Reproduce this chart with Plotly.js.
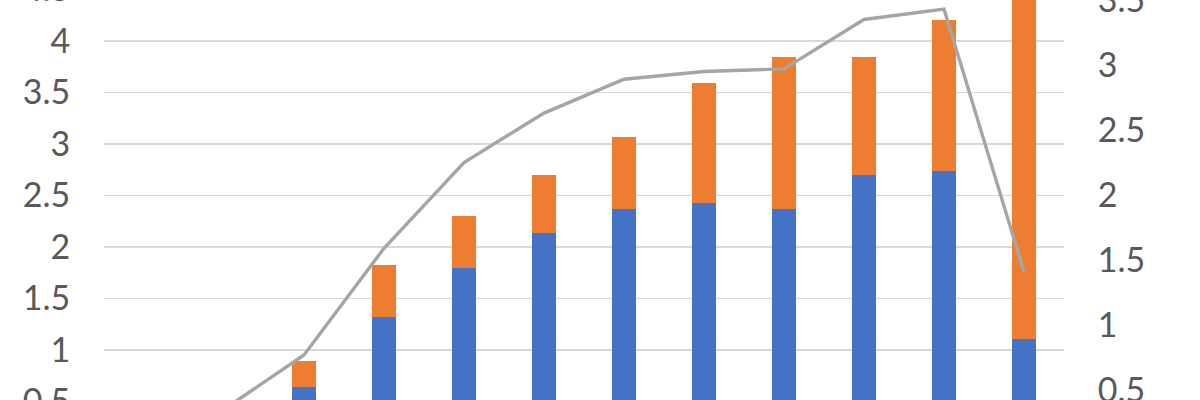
<!DOCTYPE html>
<html>
<head>
<meta charset="utf-8">
<script src="https://cdn.plot.ly/plotly-3.0.1.min.js"></script>
<style>
  html, body { margin: 0; padding: 0; width: 1200px; height: 400px; overflow: hidden; background: #fff; }
  #chart { position: absolute; left: 0; top: -100px; width: 1200px; height: 600px; }
</style>
</head>
<body>
<div id="chart"></div>
<script>
// Categories (x-axis labels are outside the visible crop)
const categories = ["1", "2", "3", "4", "5", "6", "7", "8", "9", "10", "11", "12"];
// Blue stacked series (left axis)
const seriesBlue = [0.10, 0.25, 0.64, 1.32, 1.80, 2.14, 2.37, 2.43, 2.37, 2.70, 2.74, 1.11];
// Orange stacked series (left axis), stacked on top of blue
const seriesOrange = [0.05, 0.15, 0.25, 0.51, 0.50, 0.56, 0.70, 1.16, 1.47, 1.14, 1.46, 3.50];
// Grey line series (right axis)
const seriesLine = [0.10, 0.35, 0.77, 1.59, 2.25, 2.63, 2.89, 2.95, 2.97, 3.35, 3.43, 1.41];

const traces = [
  { type: "bar", x: categories, y: seriesBlue, marker: { color: "#4472c4" }, name: "Series 1", hoverinfo: "y" },
  { type: "bar", x: categories, y: seriesOrange, marker: { color: "#ed7d31" }, name: "Series 2", hoverinfo: "y" },
  { type: "scatter", mode: "lines", x: categories, y: seriesLine, yaxis: "y2",
    line: { color: "#a5a5a5", width: 3.4 }, name: "Series 3", hoverinfo: "y" }
];

const tickFont = { family: "Lato, 'Open Sans', sans-serif", size: 34, color: "#595959" };

const layout = {
  barmode: "stack",
  bargap: 0.69,
  showlegend: false,
  paper_bgcolor: "#ffffff",
  plot_bgcolor: "#ffffff",
  margin: { l: 104, r: 136, t: 0, b: 0, pad: 0 },
  xaxis: { type: "category", showticklabels: false, showgrid: false, zeroline: false, showline: false, ticks: "" },
  yaxis: {
    range: [-0.456, 5.369], dtick: 0.5, tick0: 0,
    showgrid: true, gridcolor: "#d9d9d9", gridwidth: 1.5,
    zeroline: false, showline: false,
    ticks: "outside", ticklen: 26, tickcolor: "rgba(0,0,0,0)",
    tickfont: tickFont
  },
  yaxis2: {
    overlaying: "y", side: "right",
    range: [-0.346, 4.269], dtick: 0.5, tick0: 0,
    showgrid: false, zeroline: false, showline: false,
    ticks: "outside", ticklen: 26, tickcolor: "rgba(0,0,0,0)",
    tickfont: tickFont
  }
};

Plotly.newPlot("chart", traces, layout, { displayModeBar: false, staticPlot: true });
</script>
</body>
</html>
